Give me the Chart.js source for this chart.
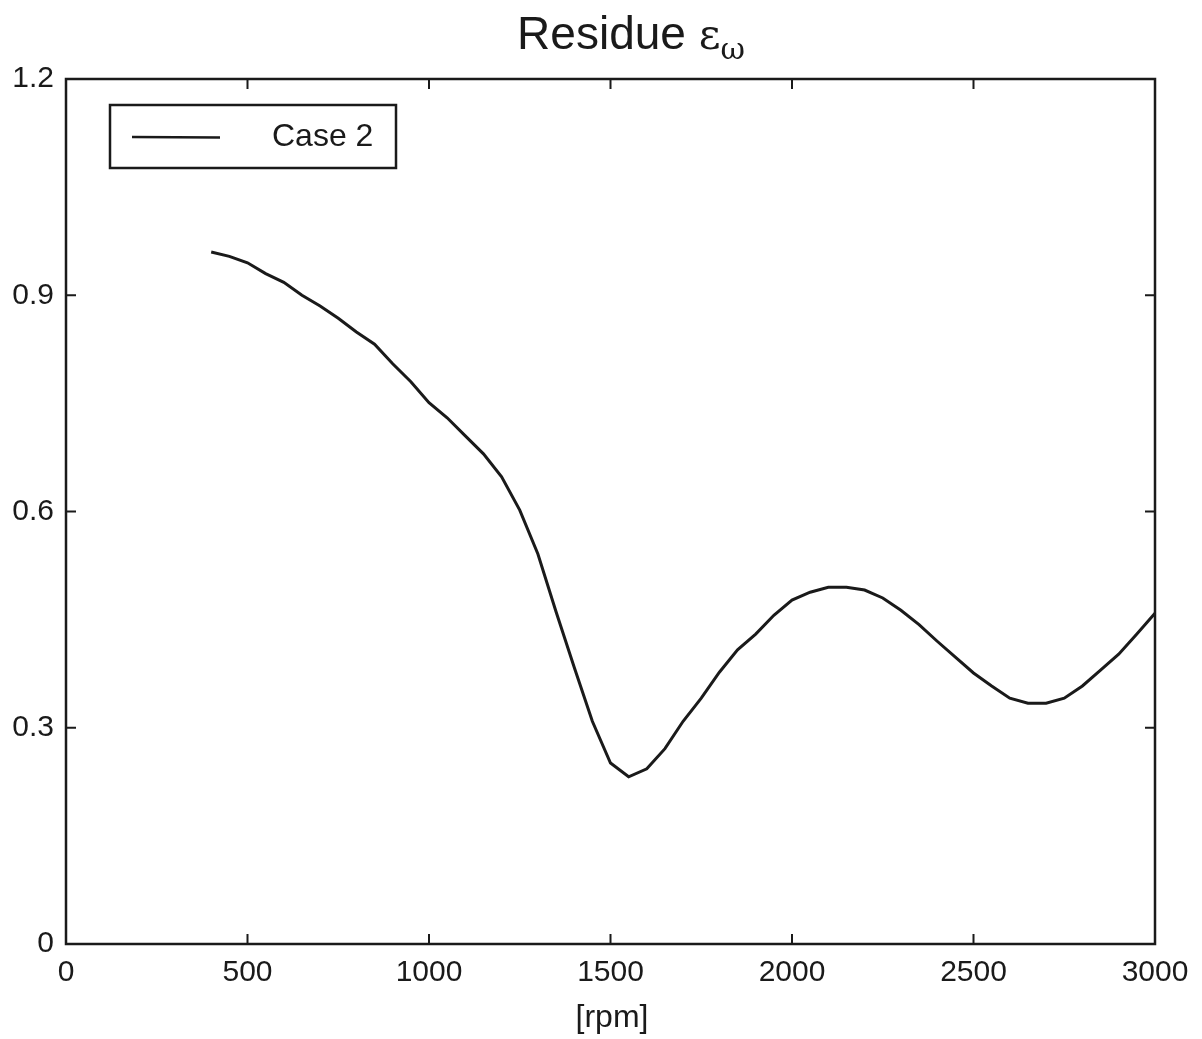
<!DOCTYPE html>
<html lang="en">
<head>
    <meta charset="UTF-8">
    <title>Residue</title>
    <script src="https://cdn.jsdelivr.net/npm/chart.js"></script>
    <style>
        body { margin: 0; background: #fff; }
    </style>
</head>
<body>
    <canvas id="myChart" width="1202" height="1039"></canvas>
    <script>
        const rpm = [400, 450, 500, 550, 600, 650, 700, 750, 800, 850, 900, 950,
            1000, 1050, 1100, 1150, 1200, 1250, 1300, 1350, 1400, 1450, 1500, 1550,
            1600, 1650, 1700, 1750, 1800, 1850, 1900, 1950, 2000, 2050, 2100, 2150,
            2200, 2250, 2300, 2350, 2400, 2450, 2500, 2550, 2600, 2650, 2700, 2750,
            2800, 2850, 2900, 2950, 3000];
        const case2 = [0.960, 0.954, 0.945, 0.930, 0.918, 0.900, 0.885, 0.868, 0.849, 0.832, 0.805, 0.780,
            0.751, 0.730, 0.705, 0.680, 0.648, 0.602, 0.541, 0.461, 0.384, 0.309, 0.251, 0.232,
            0.243, 0.271, 0.309, 0.341, 0.377, 0.408, 0.430, 0.456, 0.477, 0.488, 0.495, 0.495,
            0.491, 0.480, 0.463, 0.443, 0.420, 0.398, 0.376, 0.358, 0.341, 0.334, 0.334, 0.341,
            0.358, 0.380, 0.402, 0.430, 0.459];
        const xTicks = [0, 500, 1000, 1500, 2000, 2500, 3000];
        const yTicks = [0, 0.3, 0.6, 0.9, 1.2];

        const ink = '#1a1a1a';
        const font = '"Liberation Sans", Arial, sans-serif';

        // frame, inward ticks, title, x label and legend
        const decor = {
            id: 'decor',
            afterDatasetsDraw(chart) {
                const { ctx, chartArea: a, scales } = chart;
                ctx.save();
                ctx.strokeStyle = ink;
                ctx.lineWidth = 2.5;
                ctx.strokeRect(a.left, a.top, a.right - a.left, a.bottom - a.top);

                ctx.lineWidth = 2;
                ctx.beginPath();
                xTicks.forEach(v => {
                    const x = scales.x.getPixelForValue(v);
                    ctx.moveTo(x, a.bottom); ctx.lineTo(x, a.bottom - 10);
                    ctx.moveTo(x, a.top); ctx.lineTo(x, a.top + 10);
                });
                yTicks.forEach(v => {
                    const y = scales.y.getPixelForValue(v);
                    ctx.moveTo(a.left, y); ctx.lineTo(a.left + 10, y);
                    ctx.moveTo(a.right, y); ctx.lineTo(a.right - 10, y);
                });
                ctx.stroke();

                // title
                ctx.fillStyle = ink;
                ctx.textBaseline = 'alphabetic';
                ctx.textAlign = 'left';
                ctx.font = '46px ' + font;
                const t1 = 'Residue ';
                const w1 = ctx.measureText(t1).width;
                ctx.font = '42px "DejaVu Serif", serif';
                const w2 = ctx.measureText('ε').width;
                ctx.font = '30px "DejaVu Serif", serif';
                const w3 = ctx.measureText('ω').width;
                let tx = 631 - (w1 + w2 + w3) / 2;
                ctx.font = '46px ' + font;
                ctx.fillText(t1, tx, 49);
                ctx.font = '42px "DejaVu Serif", serif';
                ctx.fillText('ε', tx + w1, 49);
                ctx.font = '30px "DejaVu Serif", serif';
                ctx.fillText('ω', tx + w1 + w2, 59);

                // x axis label
                ctx.font = '32px ' + font;
                ctx.textAlign = 'center';
                ctx.fillText('[rpm]', 612, 1027);

                // legend
                ctx.lineWidth = 2.5;
                ctx.strokeRect(110, 105, 286, 63);
                ctx.beginPath();
                ctx.moveTo(132, 137); ctx.lineTo(220, 137.5);
                ctx.stroke();
                ctx.textAlign = 'left';
                ctx.textBaseline = 'middle';
                ctx.fillText('Case 2', 272, 137);
                ctx.restore();
            }
        };

        const ctx = document.getElementById('myChart').getContext('2d');
        const myChart = new Chart(ctx, {
            type: 'line',
            data: {
                datasets: [{
                    label: 'Case 2',
                    data: rpm.map((r, i) => ({ x: r, y: case2[i] })),
                    borderColor: ink,
                    borderWidth: 3,
                    pointRadius: 0,
                    fill: false,
                    tension: 0
                }]
            },
            options: {
                responsive: false,
                animation: false,
                layout: { padding: { left: 0, right: 47, top: 79, bottom: 0 } },
                plugins: {
                    legend: { display: false },
                    tooltip: { enabled: false }
                },
                scales: {
                    x: {
                        type: 'linear',
                        min: 0,
                        max: 3000,
                        afterFit: s => { s.height = 95; },
                        afterBuildTicks: s => { s.ticks = xTicks.map(v => ({ value: v })); },
                        grid: { display: false, drawTicks: false },
                        border: { display: false },
                        ticks: {
                            color: ink,
                            padding: 11,
                            maxRotation: 0,
                            font: { family: font, size: 30 },
                            callback: v => String(v)
                        }
                    },
                    y: {
                        min: 0,
                        max: 1.2,
                        afterFit: s => { s.width = 66; },
                        afterBuildTicks: s => { s.ticks = yTicks.map(v => ({ value: v })); },
                        grid: { display: false, drawTicks: false },
                        border: { display: false },
                        ticks: {
                            color: ink,
                            padding: 12,
                            font: { family: font, size: 30 },
                            callback: v => String(+v.toFixed(1))
                        }
                    }
                }
            },
            plugins: [decor]
        });
    </script>
</body>
</html>
